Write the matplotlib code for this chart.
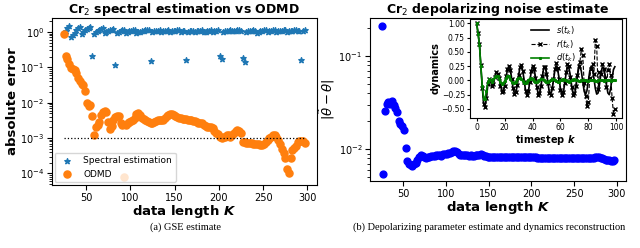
import numpy as np
import matplotlib
matplotlib.use("Agg")
import matplotlib.pyplot as plt

# data lengths K used in both panels
K = np.arange(25, 298, 2)

# (a) absolute error of the ground state energy estimate
spectral_err = [
    0.85, 1.05, 1.3, 1.5, 0.7, 0.8, 0.95, 1.1, 1.25, 1.35,          # 25-43
    0.9, 1.0, 1.1, 1.2, 1.3, 1.35, 0.21, 0.9, 0.98, 1.05,           # 45-63
    1.12, 1.2, 1.25, 0.92, 0.98, 1.05, 1.1, 1.15, 1.2, 0.117,       # 65-83
    0.95, 1.0, 1.05, 1.1, 1.15, 0.95, 1.0, 1.03, 1.07, 1.1,         # 85-103
    1.13, 0.95, 0.98, 1.02, 1.05, 1.08, 1.1, 1.12, 1.15, 0.15,      # 105-123
    1.0, 1.03, 1.06, 1.09, 1.12, 1.0, 1.03, 1.06, 1.09, 1.12,       # 125-143
    1.0, 1.03, 1.05, 1.08, 1.1, 1.12, 1.0, 1.03, 1.06, 0.16,        # 145-163
    1.0, 1.03, 1.06, 1.09, 1.0, 1.03, 1.06, 1.09, 1.12, 1.0,        # 165-183
    1.02, 1.05, 1.08, 1.1, 1.02, 1.05, 1.08, 1.1, 0.21, 0.17,       # 185-203
    1.0, 1.03, 1.06, 1.09, 1.12, 1.03, 1.05, 1.08, 1.1, 1.12,       # 205-223
    1.04, 0.18, 0.14, 1.0, 1.03, 1.06, 1.09, 1.12, 1.05, 0.95,      # 225-243
    1.0, 1.05, 1.08, 1.1, 1.13, 1.02, 1.05, 1.08, 1.1, 1.12,        # 245-263
    1.02, 1.04, 1.06, 1.08, 1.1, 1.12, 1.02, 1.04, 1.06, 1.08,      # 265-283
    1.1, 1.12, 1.05, 1.08, 0.16, 1.08, 1.1,                         # 285-297
]
odmd_err = [
    0.85, 0.21, 0.17, 0.12, 0.095, 0.09, 0.085, 0.07, 0.05, 0.04,              # 25-43
    0.034, 0.031, 0.022, 0.0095, 0.0082, 0.0088, 0.0042, 0.0012, 0.002, 0.0024,  # 45-63
    0.0028, 0.0045, 0.0055, 0.006, 0.0056, 0.0028, 0.0018, 0.0022, 0.0032, 0.004,  # 65-83
    0.0042, 0.0043, 0.0026, 0.0023, 7.7e-5, 0.0024, 0.0027, 0.0029, 0.003, 0.0033,  # 85-103
    0.0036, 0.0048, 0.005, 0.0045, 0.0038, 0.0035, 0.0032, 0.003, 0.0028, 0.0026,  # 105-123
    0.0026, 0.0028, 0.003, 0.0032, 0.0033, 0.0032, 0.0032, 0.0038, 0.0043, 0.0046,  # 125-143
    0.0049, 0.0048, 0.0045, 0.0042, 0.0039, 0.0037, 0.0036, 0.0035, 0.0035, 0.0034,  # 145-163
    0.0033, 0.0033, 0.0032, 0.0031, 0.003, 0.0029, 0.0027, 0.0027, 0.0026, 0.0024,  # 165-183
    0.0022, 0.0021, 0.002, 0.0021, 0.0019, 0.0016, 0.0014, 0.0013, 0.0011, 0.001,  # 185-203
    0.0011, 0.0011, 0.0012, 0.0012, 0.0011, 0.0012, 0.0014, 0.0016, 0.0017, 0.0016,  # 205-223
    0.0014, 0.00076, 0.00075, 0.00074, 0.00073, 0.00072, 0.00071, 0.0007, 0.00069, 0.00068,  # 225-243
    0.00066, 0.00064, 0.00063, 0.00066, 0.00075, 0.00088, 0.001, 0.0011, 0.0012, 0.0012,  # 245-263
    0.0011, 0.0009, 0.0007, 0.0005, 0.00038, 0.00028, 0.00013, 0.0001, 0.00028, 0.00045,  # 265-283
    0.00052, 0.0006, 0.00075, 0.0008, 0.00083, 0.0008, 0.00074,                  # 285-297
]
threshold = 1e-3

# (b) depolarizing parameter error
theta_err = [
    0.215, 0.0055, 0.026, 0.031, 0.032, 0.031, 0.033, 0.030, 0.028, 0.025,     # 25-43
    0.020, 0.019, 0.018, 0.016, 0.0105,                                        # 45-53
    0.0075, 0.0070, 0.0068, 0.0067, 0.0069, 0.0072, 0.0078, 0.0083, 0.0087, 0.0086,  # 55-73
    0.0084, 0.0080, 0.0082, 0.0084, 0.0086, 0.0086, 0.0085, 0.0087, 0.0088, 0.0087,  # 75-93
    0.0086, 0.0089, 0.0090, 0.0089, 0.0091, 0.0092, 0.0094, 0.0096, 0.0097, 0.0093,  # 95-113
    0.0089, 0.0088, 0.0087, 0.0088, 0.0087, 0.0087, 0.0086, 0.0087, 0.0086, 0.0086,  # 115-133
    0.0087, 0.0087, 0.0088, 0.0089, 0.0088, 0.0086, 0.0085, 0.0084,                  # 135-149
    0.0084, 0.0084, 0.0083, 0.0083, 0.0083, 0.0082, 0.0082, 0.0082, 0.0082, 0.0082,  # 151-169
    0.0083, 0.0083, 0.0082, 0.0082, 0.0082, 0.0082, 0.0083, 0.0083, 0.0082, 0.0082,  # 171-189
    0.0082, 0.0082, 0.0083, 0.0083, 0.0082,                                          # 191-199
    0.0082, 0.0083, 0.0082, 0.0081, 0.0081, 0.0081, 0.0081, 0.0081, 0.0080, 0.0080,  # 201-219
    0.0080, 0.0081, 0.0081, 0.0080, 0.0080, 0.0080, 0.0080, 0.0080, 0.0080, 0.0080,  # 221-239
    0.0080, 0.0080, 0.0080, 0.0080, 0.0081,                                          # 241-249
    0.0081, 0.0080, 0.0080, 0.0080, 0.0080, 0.0080, 0.0080, 0.0080, 0.0080, 0.0080,  # 251-269
    0.0080, 0.0081, 0.0082, 0.0083, 0.0082, 0.0081, 0.0080, 0.0079, 0.0078, 0.0078,  # 271-289
    0.0077, 0.0076, 0.0076, 0.0077,                                                  # 291-297
]

# inset: dynamics over timesteps k
steps = np.arange(100)
s_dyn = [
    1.00, 0.82, 0.63, 0.25, -0.12, -0.40, -0.44, -0.30, -0.08, 0.02,
    0.00, -0.08, -0.05, 0.05, 0.13, 0.13, 0.05, -0.08, -0.18, -0.20,
    -0.10, 0.05, 0.18, 0.25, 0.20, 0.05, -0.12, -0.22, -0.22, -0.10,
    0.08, 0.22, 0.26, 0.18, 0.00, -0.17, -0.25, -0.20, -0.04, 0.14,
    0.24, 0.22, 0.08, -0.10, -0.23, -0.24, -0.12, 0.06, 0.21, 0.25,
    0.15, -0.03, -0.20, -0.25, -0.17, 0.00, 0.17, 0.25, 0.20, 0.04,
    -0.14, -0.24, -0.22, -0.07, 0.11, 0.23, 0.23, 0.10, -0.08, -0.22,
    -0.25, -0.14, 0.04, 0.20, 0.25, 0.16, -0.02, -0.19, -0.25, -0.18,
    -0.01, 0.16, 0.25, 0.20, 0.04, -0.14, -0.24, -0.22, -0.07, 0.11,
    0.23, 0.23, 0.10, -0.08, -0.22, -0.25, -0.14, 0.04, 0.19, 0.24,
]
r_dyn = [
    1.00, 0.83, 0.64, 0.27, -0.13, -0.42, -0.47, -0.30, -0.06, 0.03,
    0.01, -0.09, -0.06, 0.06, 0.14, 0.12, 0.04, -0.10, -0.20, -0.19,
    -0.09, 0.07, 0.20, 0.26, 0.18, 0.03, -0.14, -0.23, -0.20, -0.08,
    0.10, 0.24, 0.27, 0.16, -0.02, -0.19, -0.26, -0.18, -0.02, 0.16,
    0.26, 0.20, 0.05, -0.12, -0.25, -0.22, -0.10, 0.08, 0.23, 0.24,
    0.12, -0.05, -0.22, -0.26, -0.14, 0.03, 0.20, 0.30, 0.22, 0.02,
    -0.16, -0.26, -0.20, -0.04, 0.15, 0.28, 0.25, 0.06, -0.11, -0.25,
    -0.22, -0.10, 0.09, 0.26, 0.33, 0.55, 0.45, -0.05, -0.28, -0.45,
    -0.38, 0.05, 0.20, 0.28, 0.12, 0.70, 0.60, -0.15, 0.15, 0.12,
    0.28, 0.20, 0.05, -0.12, 0.18, 0.28, 0.10, -0.30, -0.58, -0.50,
]
d_dyn = [
    1.00, 0.82, 0.62, 0.25, -0.10, -0.32, -0.32, -0.18, -0.03, 0.02,
    0.01, -0.02, 0.02, 0.06, 0.08, 0.07, 0.02, -0.03, -0.06, -0.05,
    -0.01, 0.04, 0.07, 0.07, 0.03, -0.02, -0.05, -0.05, -0.02, 0.02,
    0.05, 0.05, 0.02, -0.01, -0.04, -0.04, -0.02, 0.01, 0.03, 0.04,
    0.02, -0.01, -0.03, -0.03, -0.01, 0.01, 0.03, 0.03, 0.01, -0.01,
    -0.02, -0.02, -0.01, 0.01, 0.02, 0.02, 0.01, -0.01, -0.02, -0.02,
    0.00, 0.01, 0.02, 0.01, 0.00, -0.01, -0.02, -0.01, 0.00, 0.01,
    0.02, 0.01, 0.00, -0.01, -0.01, 0.00, 0.01, 0.01, 0.00, -0.01,
    -0.01, 0.00, 0.01, 0.01, 0.00, -0.01, -0.01, 0.00, 0.01, 0.01,
    0.00, -0.01, 0.00, 0.01, 0.01, 0.00, -0.01, 0.00, 0.01, 0.01,
]

fig = plt.figure(figsize=(6.4, 2.48), dpi=100)

# left panel
ax1 = fig.add_axes([0.081, 0.254, 0.414, 0.673])
ax1.scatter(K, spectral_err, marker='*', s=16, color='tab:blue', label='Spectral estimation')
ax1.scatter(K, odmd_err, marker='o', s=26, color='tab:orange', label='ODMD')
ax1.hlines(threshold, K[0], K[-1], colors='black', linestyles=':', lw=0.9)
ax1.set_yscale('log')
ax1.set_title(r'Cr$_2$ spectral estimation vs ODMD', fontsize=9, fontweight='bold', pad=2)
ax1.set_xlabel(r'data length $\boldsymbol{K}$', fontsize=9.5, fontweight='bold', labelpad=0)
ax1.set_ylabel('absolute error', fontsize=9.5, fontweight='bold', labelpad=1)
ax1.tick_params(labelsize=7, pad=2)
ax1.legend(loc='lower left', fontsize=6.5, borderaxespad=0.3)

# right panel
ax2 = fig.add_axes([0.578, 0.270, 0.400, 0.657])
ax2.scatter(K, theta_err, marker='o', s=24, color='blue')
ax2.set_yscale('log')
ax2.set_title(r'Cr$_2$ depolarizing noise estimate', fontsize=9, fontweight='bold', pad=2)
ax2.set_xlabel(r'data length $\boldsymbol{K}$', fontsize=9.5, fontweight='bold', labelpad=0)
ax2.set_ylabel(r'$|\tilde{\theta}-\theta|$', fontsize=9.5, labelpad=1)
ax2.tick_params(labelsize=7, pad=2)

# inset with the dynamics
ins = fig.add_axes([0.734, 0.524, 0.2375, 0.400])
ins.plot(steps, s_dyn, color='black', lw=1.2, label=r'$s(t_k)$')
ins.plot(steps, r_dyn, color='black', ls='--', lw=0.8, marker='x', ms=3, label=r'$r(t_k)$')
ins.plot(steps, d_dyn, color='green', lw=1.2, marker='s', ms=1.2, label=r'$d(t_k)$')
ins.set_xlabel(r'timestep $\boldsymbol{k}$', fontsize=7, fontweight='bold', labelpad=1)
ins.set_ylabel('dynamics', fontsize=7, fontweight='bold', labelpad=1)
ins.set_yticks([-0.5, -0.25, 0, 0.25, 0.5, 0.75, 1.0])
ins.tick_params(labelsize=5.5, length=2, pad=1.5)
ins.legend(loc='upper center', bbox_to_anchor=(0.55, 1.02), fontsize=6, frameon=False,
           handlelength=2.2, labelspacing=0.15)

# sub-captions
fig.text(0.29, 0.085, '(a) GSE estimate', ha='center', va='center', fontsize=7.5,
         family='Liberation Serif')
fig.text(0.765, 0.085, '(b) Depolarizing parameter estimate and dynamics reconstruction',
         ha='center', va='center', fontsize=7.5, family='Liberation Serif')

fig.savefig('out.png', dpi=100)
